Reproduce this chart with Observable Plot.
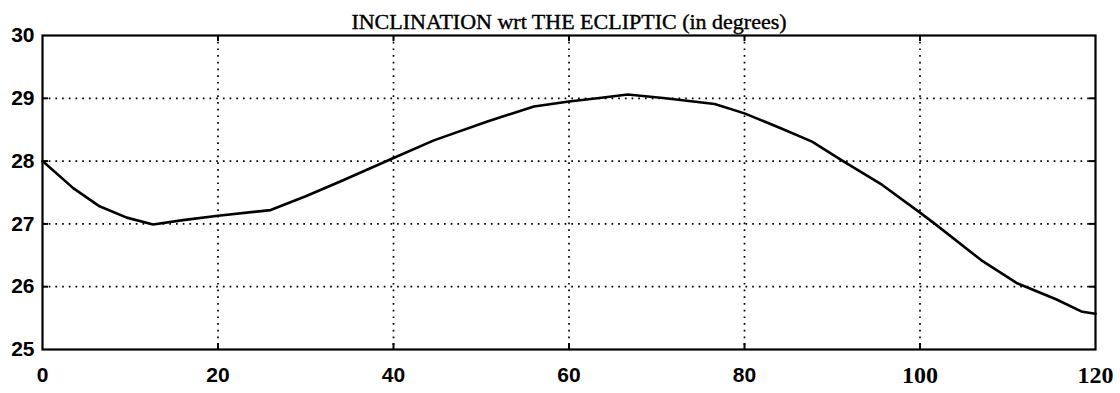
<!DOCTYPE html>
<html>
<head>
<meta charset="utf-8">
<script src="https://cdn.jsdelivr.net/npm/d3@7"></script>
<script src="https://cdn.jsdelivr.net/npm/@observablehq/plot@0.6"></script>
<style>
  body { margin: 0; background: #fff; }
  #chart svg { display: block; }
</style>
</head>
<body>
<div id="chart"></div>
<script>
// Inclination of the orbit with respect to the ecliptic (degrees) over time
const days = [0, 3.5, 6.5, 9.6, 12.6, 16, 20, 26, 30, 34, 40, 44.6, 50.7, 56, 60, 63.7, 66.7, 71, 76.6, 80, 84.2, 87.7, 91, 95.7, 100, 101.7, 107, 111, 115.5, 118.5, 120];
const inclination = [28.0, 27.57, 27.28, 27.10, 26.99, 27.06, 27.13, 27.22, 27.44, 27.68, 28.05, 28.33, 28.63, 28.87, 28.95, 29.01, 29.06, 29.0, 28.91, 28.76, 28.52, 28.31, 28.02, 27.62, 27.18, 27.0, 26.42, 26.06, 25.8, 25.6, 25.57];

const xTicks = [0, 20, 40, 60, 80, 100, 120];
const yTicks = [25, 26, 27, 28, 29, 30];
const gridX = [20, 40, 60, 80, 100];
const gridY = [26, 27, 28, 29];
const title = "INCLINATION wrt THE ECLIPTIC (in degrees)";

const series = days.map((d, i) => ({day: d, inc: inclination[i]}));

const W = 1120, H = 393;
const mL = 42, mR = 25, mT = 35, mB = 44;
const frameW = W - mL - mR, frameH = H - mT - mB;
const tickLen = 6;

const dotted = {stroke: "black", strokeWidth: 1.7, strokeDasharray: "1.7,5"};
const sansLabel = {fontFamily: "Liberation Sans, sans-serif", fontWeight: "bold", fontSize: 21, fill: "black", lineAnchor: "middle"};
const serifLabel = {fontFamily: "Liberation Serif, serif", fontWeight: "bold", fontSize: 24, fill: "black", lineAnchor: "middle"};

const chart = Plot.plot({
  width: W,
  height: H,
  marginLeft: mL,
  marginRight: mR,
  marginTop: mT,
  marginBottom: mB,
  x: {domain: [0, 120], axis: null},
  y: {domain: [25, 30], axis: null},
  style: {background: "white"},
  marks: [
    // dotted grid
    Plot.ruleX(gridX, {x: d => d, ...dotted}),
    Plot.ruleY(gridY, {y: d => d, ...dotted}),
    // inward tick marks on all four sides
    Plot.tickX(gridX, {x: d => d, insetBottom: frameH - tickLen, stroke: "black", strokeWidth: 2}),
    Plot.tickX(gridX, {x: d => d, insetTop: frameH - tickLen, stroke: "black", strokeWidth: 2}),
    Plot.tickY(gridY, {y: d => d, insetRight: frameW - tickLen, stroke: "black", strokeWidth: 2}),
    Plot.tickY(gridY, {y: d => d, insetLeft: frameW - tickLen, stroke: "black", strokeWidth: 2}),
    Plot.frame({stroke: "black", strokeWidth: 2.2}),
    // the inclination curve
    Plot.line(series, {x: "day", y: "inc", stroke: "black", strokeWidth: 2.6, strokeLinejoin: "round"}),
    // y tick labels
    Plot.text(yTicks, {y: d => d, frameAnchor: "left", dx: -8, textAnchor: "end", text: d => String(d), ...sansLabel}),
    // x tick labels
    Plot.text(xTicks.filter(d => d < 100), {x: d => d, frameAnchor: "bottom", dy: 26, text: d => String(d), ...sansLabel}),
    Plot.text(xTicks.filter(d => d >= 100), {x: d => d, frameAnchor: "bottom", dy: 26, text: d => String(d), ...serifLabel}),
    // title
    Plot.text([title], {frameAnchor: "top", dy: -14, lineAnchor: "middle", text: d => d, fontFamily: "Liberation Serif, serif", fontSize: 22, fill: "black", stroke: "black", strokeWidth: 0.4})
  ]
});

document.getElementById("chart").append(chart);
</script>
</body>
</html>
